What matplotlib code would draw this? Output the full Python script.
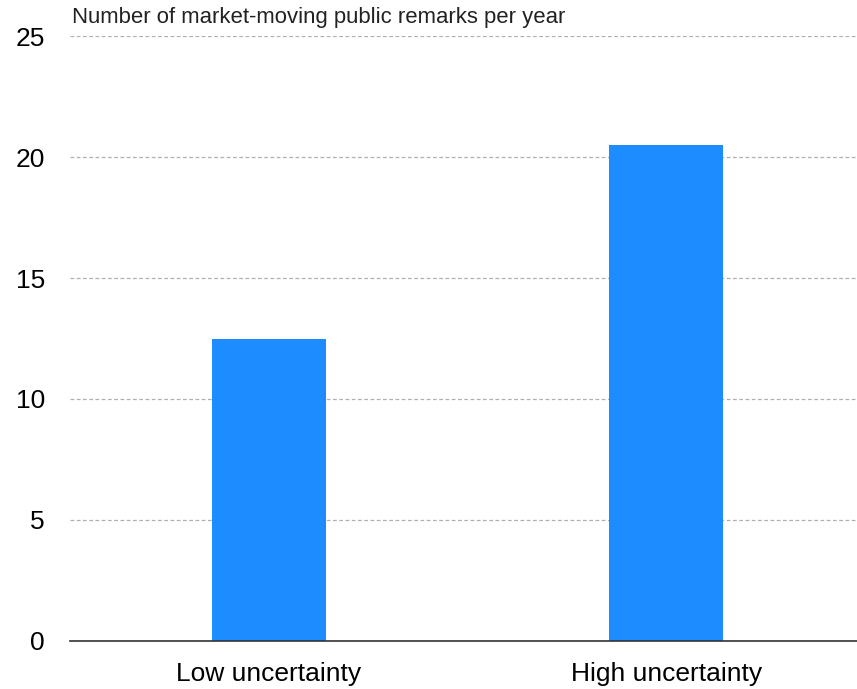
import matplotlib

matplotlib.use("Agg")
import matplotlib.pyplot as plt

categories = ["Low uncertainty", "High uncertainty"]
remarks_per_year = [12.5, 20.5]
y_ticks = [0, 5, 10, 15, 20, 25]

plt.rcParams["font.family"] = ["Liberation Sans", "DejaVu Sans"]

fig = plt.figure(figsize=(8.57, 6.89), dpi=100)
ax = fig.add_axes([0.0817, 0.0697, 0.9183, 0.878])

x = list(range(len(categories)))
ax.bar(x, remarks_per_year, width=0.287, color="#1c8cff", zorder=3)

ax.set_xlim(-0.5, 1.48)
ax.set_ylim(0, 25)
ax.set_yticks(y_ticks)
ax.set_xticks(x)
ax.set_xticklabels(categories)
ax.tick_params(axis="y", length=0, pad=18, labelsize=19)
ax.tick_params(axis="x", length=0, pad=15, labelsize=19)

ax.grid(axis="y", color="#b0b0b0", linestyle=(0, (3, 2)), linewidth=0.9, zorder=0)
for side in ("top", "right", "left"):
    ax.spines[side].set_visible(False)
ax.spines["bottom"].set_color("#333333")
ax.spines["bottom"].set_linewidth(1.2)
ax.spines["bottom"].set_zorder(4)

fig.text(0.084, 0.974, "Number of market-moving public remarks per year",
         ha="left", va="center", fontsize=15.9, color="#222222")

fig.savefig("out.png", dpi=100)
plt.close(fig)
